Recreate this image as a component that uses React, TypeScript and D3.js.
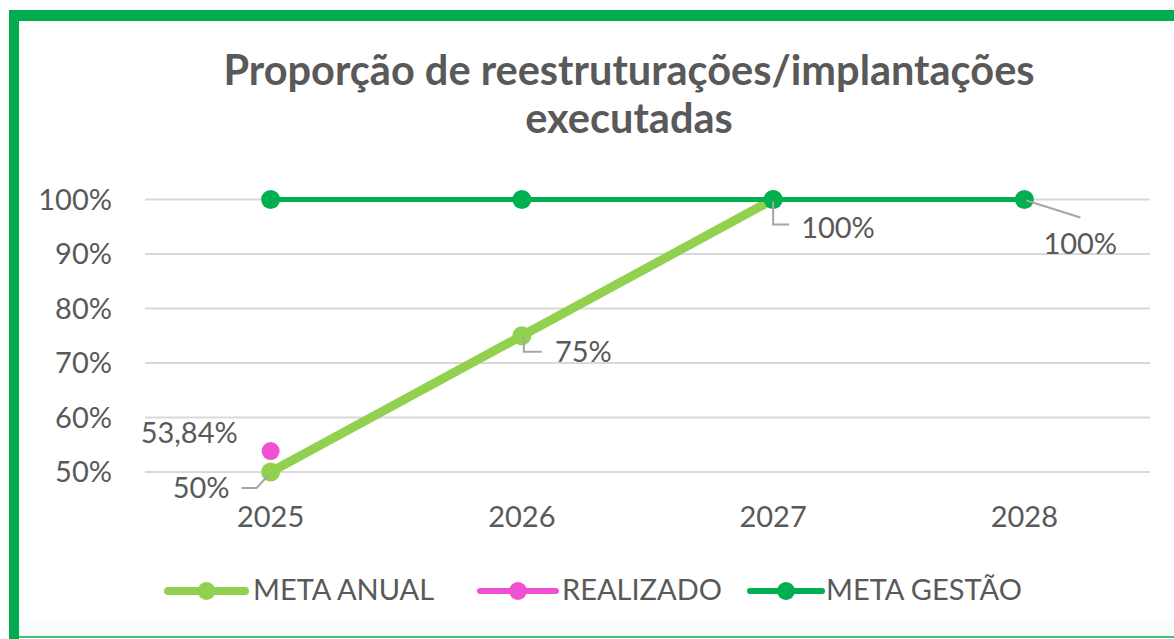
import React from "react";
import * as d3 from "d3";

const years = ["2025", "2026", "2027", "2028"];
const metaAnual = [0.5, 0.75, 1.0, null];
const realizado = [0.5384, null, null, null];
const metaGestao = [1.0, 1.0, 1.0, 1.0];
const yTicks = [0.5, 0.6, 0.7, 0.8, 0.9, 1.0];
const titleLines = ["Proporção de reestruturações/implantações", "executadas"];
const legendItems = ["META ANUAL", "REALIZADO", "META GESTÃO"];

const W = 1174;
const H = 639;
const FONT = "Lato, 'Open Sans', sans-serif";
const TXT = "#595959";
const C_ANUAL = "#92D050";
const C_GESTAO = "#00B050";
const C_REAL = "#F050D2";
const C_LEADER = "#A6A6A6";
const FS = 29;

export default function App() {
  const x = d3.scaleBand<string>().domain(years).range([145, 1150]);
  const y = d3.scaleLinear().domain([0.5, 1.0]).range([472, 199.5]);
  const cx = (c: string) => (x(c) as number) + x.bandwidth() / 2;
  const fmt = (v: number) => d3.format(".0%")(v);

  const line = d3
    .line<{ c: string; v: number | null }>()
    .defined((d) => d.v != null)
    .x((d) => cx(d.c))
    .y((d) => y(d.v as number));

  const anualData = years.map((c, i) => ({ c, v: metaAnual[i] }));
  const gestaoData = years.map((c, i) => ({ c, v: metaGestao[i] }));

  const legendPos = [
    { x0: 168, x1: 245, color: C_ANUAL, tx: 253 },
    { x0: 480, x1: 556, color: C_REAL, tx: 562 },
    { x0: 750, x1: 822, color: C_GESTAO, tx: 826 },
  ];

  return (
    <svg
      width={W}
      height={H}
      style={{ position: "absolute", left: 0, top: 0, background: "#fff" }}
      fontFamily={FONT}
    >
      <rect x={0} y={0} width={W} height={H} fill="#fff" />
      <rect x={19} y={622} width={W - 19} height={15} fill="#F8FCFD" />
      {/* border */}
      <rect x={9} y={10} width={W} height={11} fill="#00AC4E" />
      <rect x={9} y={10} width={10} height={H} fill="#00AC4E" />
      <line x1={19} x2={W} y1={637} y2={637} stroke="#3DC27A" strokeWidth={2} />

      {/* title */}
      <text x={629} y={85} textAnchor="middle" fontWeight={700} fontSize={41.5} fill={TXT}>
        {titleLines[0]}
      </text>
      <text x={629} y={133} textAnchor="middle" fontWeight={700} fontSize={41.5} fill={TXT}>
        {titleLines[1]}
      </text>

      {/* gridlines and y axis */}
      {yTicks.map((t) => (
        <g key={t}>
          <line x1={145} x2={1150} y1={y(t)} y2={y(t)} stroke="#D9D9D9" strokeWidth={2} />
          <text x={112} y={y(t) + 10} textAnchor="end" fontSize={FS} fill={TXT}>
            {fmt(t)}
          </text>
        </g>
      ))}

      {/* x axis labels */}
      {years.map((c) => (
        <text key={c} x={cx(c)} y={527} textAnchor="middle" fontSize={FS} fill={TXT}>
          {c}
        </text>
      ))}

      {/* REALIZADO */}
      {realizado.map((v, i) =>
        v == null ? null : (
          <circle key={i} cx={cx(years[i])} cy={y(v)} r={9} fill={C_REAL} />
        )
      )}

      {/* META ANUAL */}
      <path d={line(anualData) || ""} fill="none" stroke={C_ANUAL} strokeWidth={9} />
      {anualData
        .filter((d) => d.v != null)
        .map((d) => (
          <circle key={d.c} cx={cx(d.c)} cy={y(d.v as number)} r={9.5} fill={C_ANUAL} />
        ))}

      {/* META GESTÃO */}
      <path d={line(gestaoData) || ""} fill="none" stroke={C_GESTAO} strokeWidth={5} />
      {gestaoData.map((d) => (
        <circle key={d.c} cx={cx(d.c)} cy={y(d.v as number)} r={9.5} fill={C_GESTAO} />
      ))}

      {/* data labels */}
      <text x={cx(years[0]) - 130} y={y(realizado[0] as number) - 8} fontSize={FS} fill={TXT}>
        {d3.format(".2f")((realizado[0] as number) * 100).replace(".", ",") + "%"}
      </text>

      {/* 50% */}
      <polyline
        points={`${cx(years[0]) - 2},${y(0.5) + 3} ${cx(years[0]) - 14},${y(0.5) + 16} ${cx(years[0]) - 29},${y(0.5) + 16}`}
        fill="none"
        stroke={C_LEADER}
        strokeWidth={2}
      />
      <text x={cx(years[0]) - 41} y={y(0.5) + 26} textAnchor="end" fontSize={FS} fill={TXT}>
        {fmt(metaAnual[0] as number)}
      </text>

      {/* 75% */}
      <polyline
        points={`${cx(years[1]) + 2},${y(0.75) + 1} ${cx(years[1]) + 2},${y(0.75) + 16} ${cx(years[1]) + 20},${y(0.75) + 16}`}
        fill="none"
        stroke={C_LEADER}
        strokeWidth={2}
      />
      <text x={cx(years[1]) + 33} y={y(0.75) + 26} fontSize={FS} fill={TXT}>
        {fmt(metaAnual[1] as number)}
      </text>

      {/* 100% 2027 */}
      <polyline
        points={`${cx(years[2])},${y(1) + 2} ${cx(years[2])},${y(1) + 25} ${cx(years[2]) + 16},${y(1) + 25}`}
        fill="none"
        stroke={C_LEADER}
        strokeWidth={2}
      />
      <text x={cx(years[2]) + 28} y={y(1) + 38} fontSize={FS} fill={TXT}>
        {fmt(metaAnual[2] as number)}
      </text>

      {/* 100% 2028 */}
      <line
        x1={cx(years[3]) + 2}
        y1={y(1) + 1}
        x2={cx(years[3]) + 56}
        y2={y(1) + 18}
        stroke={C_LEADER}
        strokeWidth={2}
      />
      <text x={cx(years[3]) + 19} y={y(1) + 54} fontSize={FS} fill={TXT}>
        {fmt(metaGestao[3])}
      </text>

      {/* legend */}
      {legendItems.map((name, i) => {
        const p = legendPos[i];
        return (
          <g key={name}>
            <line
              x1={p.x0}
              x2={p.x1}
              y1={591}
              y2={591}
              stroke={p.color}
              strokeWidth={i === 0 ? 8 : 6}
              strokeLinecap="round"
            />
            <circle cx={(p.x0 + p.x1) / 2} cy={591} r={9} fill={p.color} />
            <text x={p.tx} y={600} fontSize={FS} fill={TXT}>
              {name}
            </text>
          </g>
        );
      })}
    </svg>
  );
}
